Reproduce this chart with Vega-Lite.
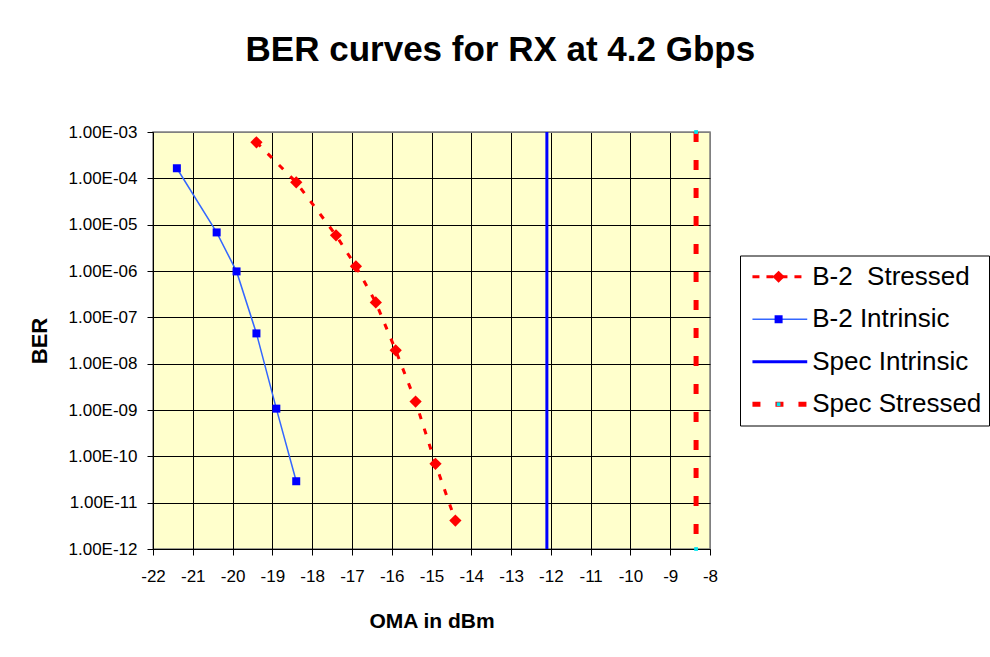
{
  "$schema": "https://vega.github.io/schema/vega-lite/v6.json",
  "background": "white",
  "padding": {"left": 27, "top": 33, "right": 0, "bottom": 0},
  "title": {"text": "BER curves for RX at 4.2 Gbps", "fontSize": 35, "fontWeight": "bold", "font": "Liberation Sans", "color": "#000000", "anchor": "middle", "offset": 53, "dx": -8},
  "spacing": 30,
  "bounds": "flush",
  "center": true,
  "resolve": {"scale": {"x": "independent", "y": "independent"}},
  "config": {
    "font": "Liberation Sans",
    "axis": {"labelColor": "#000000", "titleColor": "#000000", "labelFont": "Liberation Sans", "titleFont": "Liberation Sans", "domainColor": "#000000", "tickColor": "#000000", "gridOpacity": 1, "gridWidth": 1}
  },
  "hconcat": [
    {
      "width": 557,
      "height": 417,
      "view": {"fill": "#FFFFCC", "stroke": "#808080", "strokeWidth": 1.5},
      "data": {"values": [
        {"series": "B-2 Stressed", "oma": -19.4, "ber": 6.0e-4},
        {"series": "B-2 Stressed", "oma": -18.4, "ber": 8.2e-5},
        {"series": "B-2 Stressed", "oma": -17.4, "ber": 5.9e-6},
        {"series": "B-2 Stressed", "oma": -16.9, "ber": 1.26e-6},
        {"series": "B-2 Stressed", "oma": -16.4, "ber": 2.1e-7},
        {"series": "B-2 Stressed", "oma": -15.9, "ber": 1.94e-8},
        {"series": "B-2 Stressed", "oma": -15.4, "ber": 1.52e-9},
        {"series": "B-2 Stressed", "oma": -14.9, "ber": 6.9e-11},
        {"series": "B-2 Stressed", "oma": -14.4, "ber": 4.1e-12},
        {"series": "B-2 Intrinsic", "oma": -21.4, "ber": 1.65e-4},
        {"series": "B-2 Intrinsic", "oma": -20.4, "ber": 6.8e-6},
        {"series": "B-2 Intrinsic", "oma": -19.9, "ber": 9.8e-7},
        {"series": "B-2 Intrinsic", "oma": -19.4, "ber": 4.5e-8},
        {"series": "B-2 Intrinsic", "oma": -18.9, "ber": 1.07e-9},
        {"series": "B-2 Intrinsic", "oma": -18.4, "ber": 2.9e-11},
        {"series": "Spec Intrinsic", "oma": -12.1, "ber": 1e-3},
        {"series": "Spec Intrinsic", "oma": -12.1, "ber": 1e-12},
        {"series": "Spec Stressed", "oma": -8.35, "ber": 1e-3},
        {"series": "Spec Stressed", "oma": -8.35, "ber": 1e-12}
      ]},
      "encoding": {
        "x": {
          "field": "oma", "type": "quantitative",
          "scale": {"domain": [-22, -8], "nice": false, "zero": false},
          "axis": {
            "title": "OMA in dBm", "titleFontSize": 21, "titleFontWeight": "bold", "titlePadding": 26,
            "values": [-22, -21, -20, -19, -18, -17, -16, -15, -14, -13, -12, -11, -10, -9, -8],
            "labelExpr": "'' + datum.value", "labelFontSize": 17, "labelPadding": 13, "labelFlush": false, "labelOverlap": false,
            "tickSize": 6, "grid": true,
            "gridColor": {"condition": {"test": "datum.value == -8", "value": "#808080"}, "value": "#000000"}
          }
        },
        "y": {
          "field": "ber", "type": "quantitative",
          "scale": {"type": "log", "domain": [1e-12, 1e-3], "nice": false},
          "axis": {
            "title": "BER", "titleFontSize": 22, "titleFontWeight": "bold", "titlePadding": 17,
            "values": [1e-12, 1e-11, 1e-10, 1e-9, 1e-8, 1e-7, 1e-6, 1e-5, 1e-4, 1e-3],
            "labelExpr": "'1.00E-' + (round(-log(datum.value)/LN10) < 10 ? '0' : '') + round(-log(datum.value)/LN10)",
            "labelFontSize": 17, "labelPadding": 10, "labelFlush": false, "labelOverlap": false,
            "tickSize": 6, "grid": true,
            "gridColor": {"condition": {"test": "datum.value > 0.00099", "value": "#808080"}, "value": "#000000"}
          }
        }
      },
      "layer": [
        {"transform": [{"filter": "datum.series == 'B-2 Stressed'"}], "mark": {"type": "line", "color": "#FF0000", "strokeWidth": 3, "strokeDash": [6, 10]}},
        {"transform": [{"filter": "datum.series == 'B-2 Stressed'"}], "mark": {"type": "point", "shape": "diamond", "filled": true, "color": "#FF0000", "size": 150, "opacity": 1, "strokeWidth": 0}},
        {"transform": [{"filter": "datum.series == 'B-2 Intrinsic'"}], "mark": {"type": "line", "color": "#3366FF", "strokeWidth": 1.5}},
        {"transform": [{"filter": "datum.series == 'B-2 Intrinsic'"}], "mark": {"type": "point", "shape": "square", "filled": true, "color": "#0000FF", "size": 64, "opacity": 1, "strokeWidth": 0}},
        {"transform": [{"filter": "datum.series == 'Spec Intrinsic'"}], "mark": {"type": "line", "color": "#0000FF", "strokeWidth": 3}},
        {"transform": [{"filter": "datum.series == 'Spec Stressed'"}], "mark": {"type": "line", "color": "#FF0000", "strokeWidth": 5, "strokeDash": [10, 18]}},
        {"transform": [{"filter": "datum.series == 'Spec Stressed'"}], "mark": {"type": "point", "shape": "square", "filled": true, "color": "#00E5EE", "size": 14, "opacity": 1, "strokeWidth": 0}}
      ]
    },
    {
      "width": 249,
      "height": 170,
      "view": {"fill": "#FFFFFF", "stroke": "#000000", "strokeWidth": 1},
      "data": {"values": [
        {"series": "B-2 Stressed", "label": "B-2\u00a0 Stressed"},
        {"series": "B-2 Intrinsic", "label": "B-2 Intrinsic"},
        {"series": "Spec Intrinsic", "label": "Spec Intrinsic"},
        {"series": "Spec Stressed", "label": "Spec Stressed"}
      ]},
      "encoding": {
        "y": {"field": "series", "type": "nominal", "sort": null,
              "scale": {"type": "point", "domain": ["B-2 Stressed", "B-2 Intrinsic", "Spec Intrinsic", "Spec Stressed"], "padding": 0.5},
              "axis": null}
      },
      "layer": [
        {
          "mark": {"type": "rule"},
          "encoding": {
            "x": {"datum": 0.05, "type": "quantitative", "scale": {"domain": [0, 1], "nice": false, "zero": false}, "axis": null},
            "x2": {"datum": 0.27},
            "stroke": {"field": "series", "type": "nominal", "scale": {"domain": ["B-2 Stressed", "B-2 Intrinsic", "Spec Intrinsic", "Spec Stressed"], "range": ["#FF0000", "#3366FF", "#0000FF", "#FF0000"]}, "legend": null},
            "strokeDash": {"field": "series", "type": "nominal", "scale": {"domain": ["B-2 Stressed", "B-2 Intrinsic", "Spec Intrinsic", "Spec Stressed"], "range": [[7, 7], [1, 0], [1, 0], [8, 15]]}, "legend": null},
            "strokeWidth": {"field": "series", "type": "nominal", "scale": {"type": "ordinal", "domain": ["B-2 Stressed", "B-2 Intrinsic", "Spec Intrinsic", "Spec Stressed"], "range": [3, 1.5, 3, 5]}, "legend": null}
          }
        },
        {
          "mark": {"type": "point", "filled": true, "opacity": 1, "strokeWidth": 0, "size": 64},
          "encoding": {
            "x": {"datum": 0.155, "type": "quantitative"},
            "fill": {"field": "series", "type": "nominal", "scale": {"domain": ["B-2 Stressed", "B-2 Intrinsic", "Spec Intrinsic", "Spec Stressed"], "range": ["#FF0000", "#0000FF", "transparent", "#00E5EE"]}, "legend": null},
            "shape": {"field": "series", "type": "nominal", "scale": {"domain": ["B-2 Stressed", "B-2 Intrinsic", "Spec Intrinsic", "Spec Stressed"], "range": ["diamond", "square", "square", "square"]}, "legend": null},
            "size": {"field": "series", "type": "nominal", "scale": {"type": "ordinal", "domain": ["B-2 Stressed", "B-2 Intrinsic", "Spec Intrinsic", "Spec Stressed"], "range": [150, 64, 1, 14]}, "legend": null}
          }
        },
        {
          "mark": {"type": "text", "align": "left", "baseline": "middle", "fontSize": 26, "font": "Liberation Sans", "color": "#000000"},
          "encoding": {
            "x": {"datum": 0.29, "type": "quantitative"},
            "text": {"field": "label"}
          }
        }
      ]
    }
  ]
}
